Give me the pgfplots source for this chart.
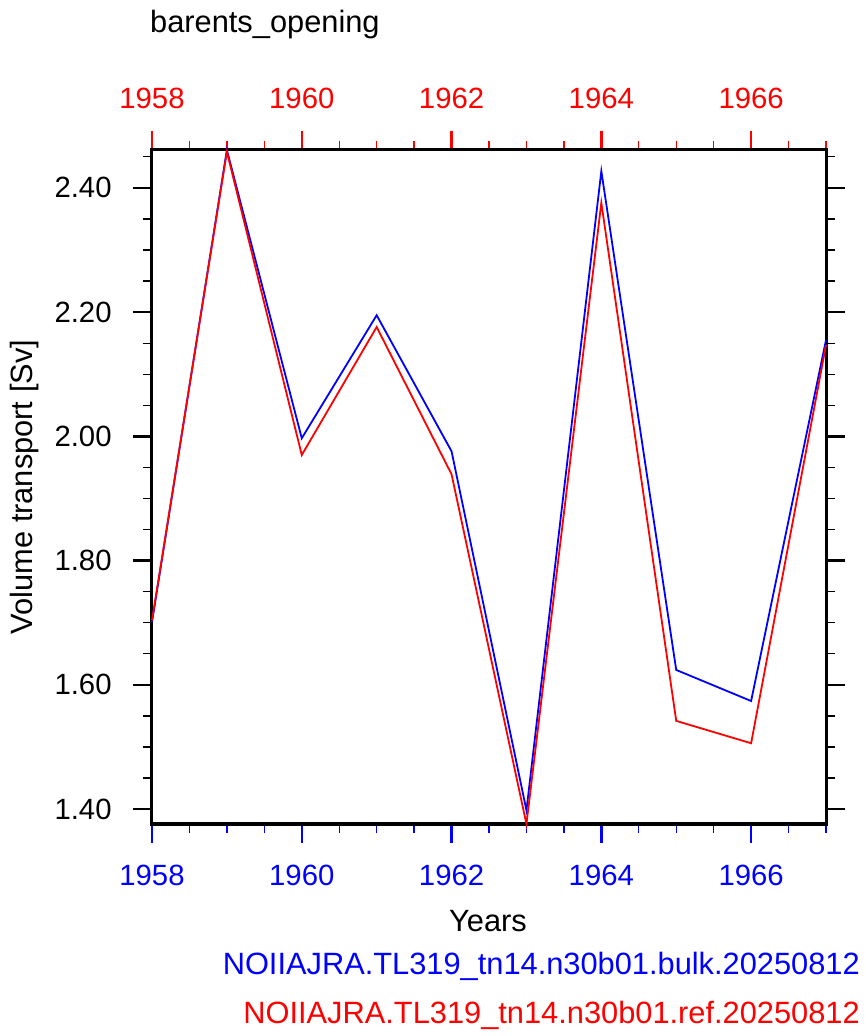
\documentclass[border=0pt]{standalone}
\usepackage{pgfplots}
\pgfplotsset{compat=1.18}
\usepackage{fontspec}
\setmainfont{Liberation Sans}
\newcommand{\tickfont}{\fontsize{29.3}{34}\selectfont}
\newcommand{\labfont}{\fontsize{30.8}{36}\selectfont}
\pgfplotstableread{
year blue red
1958 1.701 1.704
1959 2.461 2.458
1960 1.997 1.970
1961 2.195 2.176
1962 1.976 1.939
1963 1.398 1.376
1964 2.427 2.376
1965 1.624 1.542
1966 1.574 1.506
1967 2.155 2.147
}\datatab
\begin{document}
\begin{tikzpicture}
\useasboundingbox (-152pt,-212pt) rectangle (713pt,824pt);
\pgfplotsset{
  common/.style={
    scale only axis, width=674pt, height=674pt,
    xmin=1958, xmax=1967, ymin=1.376, ymax=2.461,
    tick align=outside,
    major tick length=19pt, minor tick length=9pt,
    every major tick/.append style={line width=2.4pt},
    every minor tick/.append style={line width=1.3pt},
    axis line style={line width=3pt},
    xtick={1958,1960,1962,1964,1966},
    minor xtick={1958.5,1959,1959.5,1960.5,1961,1961.5,1962.5,1963,1963.5,1964.5,1965,1965.5,1966.5,1967},
    /pgf/number format/assume math mode=true,
    /pgf/number format/1000 sep={},
    tick label style={font=\tickfont},
  }
}
\begin{axis}[common,
  xtick pos=upper, xticklabel pos=upper,
  ytick=\empty,
  xtick style={red},
  xticklabel style={red, anchor=base, yshift=22pt},
]
\end{axis}
\begin{axis}[common,
  xtick pos=lower, xticklabel pos=lower,
  ytick pos=both, yticklabel pos=left,
  ytick={1.4,1.6,1.8,2.0,2.2,2.4},
  minor ytick={1.45,1.5,1.55,1.65,1.7,1.75,1.85,1.9,1.95,2.05,2.1,2.15,2.25,2.3,2.35,2.45},
  xtick style={blue},
  ytick style={black},
  xticklabel style={blue, anchor=base, yshift=-43pt},
  yticklabel style={anchor=east, xshift=-18pt,
    /pgf/number format/fixed, /pgf/number format/fixed zerofill,
    /pgf/number format/precision=2},
  clip=false,
]
\addplot[blue, line width=1.8pt] table[x=year, y=blue] {\datatab};
\addplot[red, line width=1.8pt] table[x=year, y=red] {\datatab};
\node[anchor=base west, font=\labfont, inner sep=0pt] at (rel axis cs:-0.003,1.175) {barents\_opening};
\node[anchor=base, font=\labfont, inner sep=0pt] at (rel axis cs:0.4985,-0.160) {Years};
\node[anchor=base, rotate=90, font=\labfont, inner sep=0pt] at (rel axis cs:-0.1766,0.5) {Volume transport [Sv]};
\node[anchor=base east, font=\labfont, inner sep=0pt, blue] at (rel axis cs:1.0504,-0.224) {NOIIAJRA.TL319\_tn14.n30b01.bulk.20250812};
\node[anchor=base east, font=\labfont, inner sep=0pt, red] at (rel axis cs:1.0504,-0.2967) {NOIIAJRA.TL319\_tn14.n30b01.ref.20250812};
\end{axis}
\end{tikzpicture}
\end{document}
